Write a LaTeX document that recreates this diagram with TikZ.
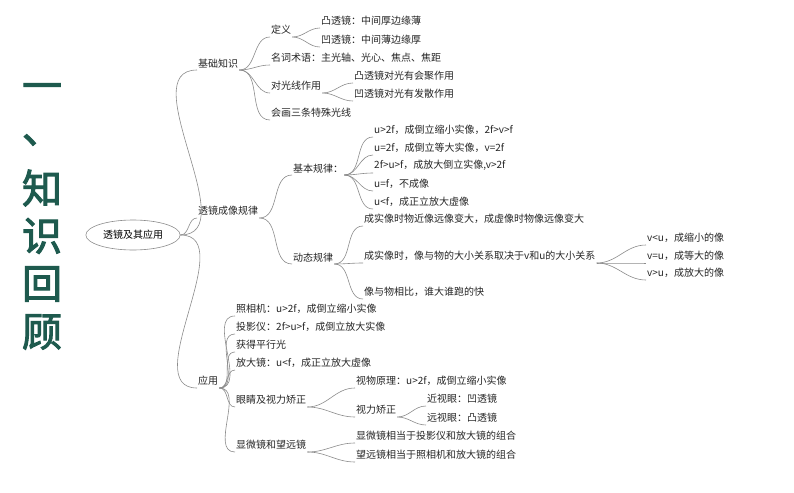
\documentclass[tikz,border=0pt]{standalone}
\usepackage{fontspec}
\newfontfamily\cjk{Noto Sans CJK SC}
\newfontfamily\cjkbold[FakeBold=2.5]{Noto Sans CJK SC}
\usetikzlibrary{shapes.geometric}
\definecolor{titlegreen}{HTML}{1E5A4E}
\definecolor{linegray}{HTML}{8C8C8C}
\tikzset{%
  leaf/.style  = {anchor=south west, inner xsep=1pt, inner ysep=2pt,%
                  font=\cjk\fontsize{10}{11}\selectfont, text=black!85,%
                  append after command={[draw=linegray,line width=0.6pt]%
                  (\tikzlastnode.south west) -- (\tikzlastnode.south east)}},%
  wide/.style  = {text width=#1},%
  root/.style  = {ellipse, draw=linegray, line width=0.6pt, minimum width=88pt,%
                  minimum height=30pt, font=\cjk\fontsize{10}{11}\selectfont},%
  link/.style  = {draw=linegray, line width=0.6pt},%
  big/.style   = {font=\cjkbold\fontsize{40}{42}\selectfont, text=titlegreen}%
}
\begin{document}
\begin{tikzpicture}[x=1pt,y=-1pt]
	\useasboundingbox[fill=white] (0,0) rectangle (794,492);
	% title
	\node[big] (t1) at (42,92) {一};
	\node[big] (t2) at (42,140) {、};
	\node[big] (t3) at (42,188) {知};
	\node[big] (t4) at (42,236) {识};
	\node[big] (t5) at (42,284) {回};
	\node[big] (t6) at (42,332) {顾};
	% root
	\node[root] (r) at (133,235) {透镜及其应用};
	% level 1
	\node[leaf] (a) at (197,70) {基础知识};
	\node[leaf] (b) at (197,218) {透镜成像规律};
	\node[leaf] (c) at (197,388) {应用};
	% basic knowledge
	\node[leaf] (a1) at (270,37) {定义};
	\node[leaf,wide=113pt] (a11) at (320,28) {凸透镜：中间厚边缘薄};
	\node[leaf,wide=113pt] (a12) at (320,47) {凹透镜：中间薄边缘厚};
	\node[leaf] (a2) at (270,65) {名词术语：主光轴、光心、焦点、焦距};
	\node[leaf] (a3) at (270,93) {对光线作用};
	\node[leaf,wide=112pt] (a31) at (353,83) {凸透镜对光有会聚作用};
	\node[leaf,wide=112pt] (a32) at (353,101) {凹透镜对光有发散作用};
	\node[leaf] (a4) at (270,120) {会画三条特殊光线};
	% imaging rules
	\node[leaf] (b1) at (292,175) {基本规律：};
	\node[leaf] (b11) at (373,137) {u>2f，成倒立缩小实像，2f>v>f};
	\node[leaf] (b12) at (373,155) {u=2f，成倒立等大实像，v=2f};
	\node[leaf] (b13) at (373,173) {2f>u>f，成放大倒立实像,v>2f};
	\node[leaf] (b14) at (373,191) {u=f，不成像};
	\node[leaf] (b15) at (373,209) {u<f，成正立放大虚像};
	\node[leaf] (b2) at (292,264) {动态规律};
	\node[leaf] (b21) at (363,226) {成实像时物近像远像变大，成虚像时物像远像变大};
	\node[leaf] (b22) at (363,263) {成实像时，像与物的大小关系取决于v和u的大小关系};
	\node[leaf,wide=110pt] (b221) at (646,245) {v<u，成缩小的像};
	\node[leaf,wide=110pt] (b222) at (646,263) {v=u，成等大的像};
	\node[leaf,wide=110pt] (b223) at (646,280) {v>u，成放大的像};
	\node[leaf] (b23) at (363,299) {像与物相比，谁大谁跑的快};
	% applications
	\node[leaf] (c1) at (235,316) {照相机：u>2f，成倒立缩小实像};
	\node[leaf] (c2) at (235,334) {投影仪：2f>u>f，成倒立放大实像};
	\node[leaf] (c3) at (235,352) {获得平行光};
	\node[leaf] (c4) at (235,370) {放大镜：u<f，成正立放大虚像};
	\node[leaf] (c5) at (235,407) {眼睛及视力矫正};
	\node[leaf] (c51) at (355,388) {视物原理：u>2f，成倒立缩小实像};
	\node[leaf] (c52) at (355,417) {视力矫正};
	\node[leaf,wide=82pt] (c521) at (426,406) {近视眼：凹透镜};
	\node[leaf,wide=82pt] (c522) at (426,425) {远视眼：凸透镜};
	\node[leaf] (c6) at (235,452) {显微镜和望远镜};
	\node[leaf] (c61) at (355,443) {显微镜相当于投影仪和放大镜的组合};
	\node[leaf] (c62) at (355,462) {望远镜相当于照相机和放大镜的组合};
	% connectors
	\foreach \p/\c in {r/a,r/b,r/c}
		\draw[link] (\p.east) to[out=0,in=180] (\c.south west);
	\foreach \p/\c in {a/a1,a/a2,a/a3,a/a4,a1/a11,a1/a12,a3/a31,a3/a32,%
	                   b/b1,b/b2,b1/b11,b1/b12,b1/b13,b1/b14,b1/b15,%
	                   b2/b21,b2/b22,b2/b23,b22/b221,b22/b222,b22/b223,%
	                   c/c1,c/c2,c/c3,c/c4,c/c5,c/c6,c5/c51,c5/c52,%
	                   c52/c521,c52/c522,c6/c61,c6/c62}
		\draw[link] (\p.south east) to[out=0,in=180] (\c.south west);
\end{tikzpicture}
\end{document}
